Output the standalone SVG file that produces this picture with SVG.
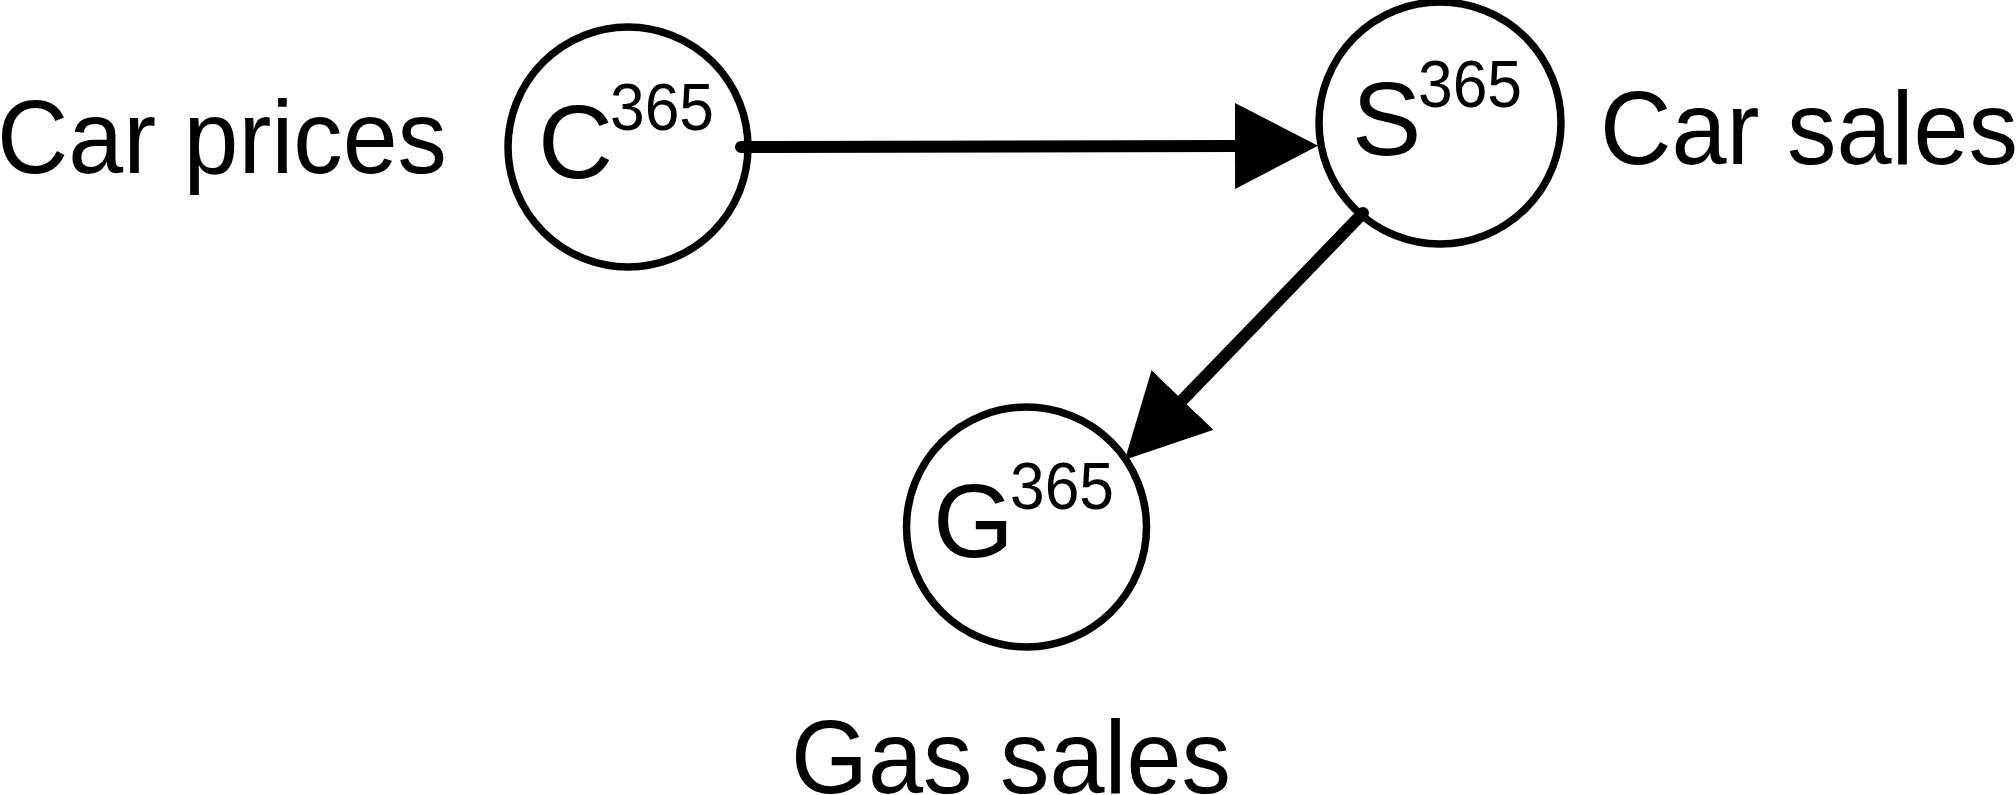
<svg xmlns="http://www.w3.org/2000/svg" width="2016" height="795" viewBox="0 0 2016 795">
  <style>
    .node { fill: #ffffff; stroke: #000000; stroke-width: 7.5; }
    .big { font-family: "Liberation Sans", Arial, Helvetica, sans-serif; font-size: 104px; fill: #000000; }
    .sup { font-family: "Liberation Sans", Arial, Helvetica, sans-serif; font-size: 66px; fill: #000000; }
    .edge { fill: none; stroke: #000000; stroke-width: 12; stroke-linecap: round; }
  </style>
  <defs>
    <marker id="arrow" markerUnits="userSpaceOnUse" markerWidth="84" markerHeight="88" refX="0" refY="43" orient="auto" viewBox="0 0 84 88">
      <path d="M0,0 L83,43 L0,86 Z" fill="#000000"/>
    </marker>
  </defs>
  <rect x="0" y="0" width="2016" height="795" fill="#ffffff"/>

  <g id="node-C">
    <circle class="node" cx="628" cy="147" r="120"/>
    <text class="big" x="538" y="178">C</text>
    <text class="sup" x="610" y="130" textLength="104" lengthAdjust="spacingAndGlyphs">365</text>
  </g>
  <g id="node-S">
    <circle class="node" cx="1440" cy="123" r="121"/>
    <text class="big" x="1352" y="155">S</text>
    <text class="sup" x="1418" y="107" textLength="104" lengthAdjust="spacingAndGlyphs">365</text>
  </g>
  <g id="node-G">
    <circle class="node" cx="1026.5" cy="527" r="120"/>
    <text class="big" x="933" y="557">G</text>
    <text class="sup" x="1010" y="509" textLength="104" lengthAdjust="spacingAndGlyphs">365</text>
  </g>

  <g id="labels">
    <text class="big" x="-3" y="173" textLength="450" lengthAdjust="spacingAndGlyphs">Car prices</text>
    <text class="big" x="1600" y="164" textLength="418" lengthAdjust="spacingAndGlyphs">Car sales</text>
    <text class="big" x="791" y="793" textLength="440" lengthAdjust="spacingAndGlyphs">Gas sales</text>
  </g>

  <g id="connectors">
    <line class="edge" x1="741" y1="147" x2="1235" y2="146" marker-end="url(#arrow)"/>
    <line class="edge" x1="1363" y1="213" x2="1182.5" y2="400" marker-end="url(#arrow)"/>
  </g>
</svg>
